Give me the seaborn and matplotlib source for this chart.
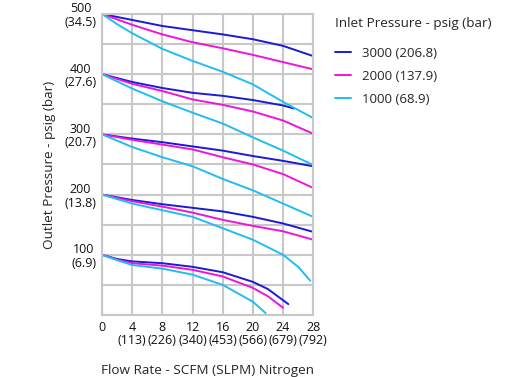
import pandas as pd
import matplotlib
import matplotlib.pyplot as plt
import seaborn as sns

# flow rate readings, SCFM
flow = [0, 4, 8, 12, 16, 20, 24, 28]

# outlet set at 500 psig
out500_3000 = [500, 490, 480, 473, 466, 458, 447, 430]
out500_2000 = [500, 482, 466, 453, 443, 432, 420, 408]
flow500_1000 = [0, 2, 4, 8, 12, 16, 20, 24, 28]
out500_1000 = [500, 483, 468, 442, 422, 404, 383, 354, 327]

# outlet set at 400 psig
flow400_3000 = [0, 4, 8, 12, 16, 20, 24, 25.4]
out400_3000 = [400, 387, 377, 369, 364, 357, 348, 343]
out400_2000 = [400, 384, 372, 358, 349, 338, 323, 301]
out400_1000 = [400, 376, 355, 336, 318, 295, 273, 249]

# outlet set at 300 psig
out300_3000 = [300, 293, 287, 280, 273, 264, 256, 247]
out300_2000 = [300, 291, 283, 275, 262, 250, 234, 211]
out300_1000 = [300, 279, 262, 247, 226, 207, 185, 163]

# outlet set at 200 psig
out200_3000 = [200, 191, 184, 178, 172, 163, 152, 138]
out200_2000 = [200, 189, 180, 170, 158, 148, 139, 125]
flow200_1000 = [0, 4, 8, 12, 16, 20, 24, 26, 27.6]
out200_1000 = [200, 185, 174, 163, 144, 125, 100, 80, 57]

# outlet set at 100 psig
flow100_3000 = [0, 2, 4, 8, 12, 16, 20, 22, 24.7]
out100_3000 = [100, 93, 89, 86, 80, 71, 55, 43, 18]
flow100_2000 = [0, 2, 4, 8, 12, 16, 20, 22, 24]
out100_2000 = [100, 92, 86, 82, 75, 64, 45, 31, 12]
flow100_1000 = [0, 2, 4, 8, 12, 16, 20, 21.7]
out100_1000 = [100, 91, 83, 77, 67, 50, 22, 3]

inlet_labels = ['3000 (206.8)', '2000 (137.9)', '1000 (68.9)']
colors = ['#1a1ad8', '#ee14dc', '#22bdee']

x_ticks = [0, 4, 8, 12, 16, 20, 24, 28]
x_labels = ['0', '4\n(113)', '8\n(226)', '12\n(340)', '16\n(453)',
            '20\n(566)', '24\n(679)', '28\n(792)']
y_ticks = [0, 50, 100, 150, 200, 250, 300, 350, 400, 450, 500]
y_labels = ['', '', '100\n(6.9)', '', '200\n(13.8)', '', '300\n(20.7)', '',
            '400\n(27.6)', '', '500\n(34.5)']


def build_frame():
  curves = [
    (flow, out500_3000, 0), (flow, out500_2000, 1), (flow500_1000, out500_1000, 2),
    (flow400_3000, out400_3000, 0), (flow, out400_2000, 1), (flow, out400_1000, 2),
    (flow, out300_3000, 0), (flow, out300_2000, 1), (flow, out300_1000, 2),
    (flow, out200_3000, 0), (flow, out200_2000, 1), (flow200_1000, out200_1000, 2),
    (flow100_3000, out100_3000, 0), (flow100_2000, out100_2000, 1),
    (flow100_1000, out100_1000, 2),
  ]
  rows = []
  for i, (xs, ys, k) in enumerate(curves):
    for x, y in zip(xs, ys):
      rows.append({'flow': x, 'outlet': y, 'inlet': inlet_labels[k], 'curve': i})
  return pd.DataFrame(rows)


def main():
  sns.set_style('white')
  matplotlib.rc('font', family=['Open Sans', 'DejaVu Sans'], size=9)

  df = build_frame()

  fig = plt.figure(figsize=(5.3, 3.77), dpi=100)
  ax = fig.add_axes([0.1925, 0.1645, 0.3985, 0.7985])

  sns.lineplot(data=df, x='flow', y='outlet', hue='inlet', units='curve',
               estimator=None, sort=False, hue_order=inlet_labels,
               palette=colors, linewidth=1.4, ax=ax)

  grid_color = '#c8c8c8'
  ax.set_xlim(0, 28)
  ax.set_ylim(0, 500)
  ax.set_xticks(x_ticks)
  ax.set_xticklabels(x_labels, linespacing=1.05)
  ax.set_yticks(y_ticks)
  ax.set_yticklabels(y_labels, multialignment='center', linespacing=1.05)
  ax.tick_params(length=0, pad=4, labelsize=9, colors='#111111')
  ax.grid(True, color=grid_color, linewidth=1.5)
  ax.set_axisbelow(True)
  for s in ax.spines.values():
    s.set_color(grid_color)
    s.set_linewidth(1.5)

  ax.set_xlabel('Flow Rate - SCFM (SLPM) Nitrogen', fontsize=9.7, labelpad=12)
  ax.set_ylabel('Outlet Pressure - psig (bar)', fontsize=9.7, labelpad=6)

  sns.move_legend(ax, 'upper left', bbox_to_anchor=(0.61, 0.986),
                  bbox_transform=fig.transFigure, frameon=False,
                  title='Inlet Pressure - psig (bar)', title_fontsize=9.7,
                  fontsize=9.5, handlelength=1.2, handletextpad=0.8,
                  labelspacing=0.75, alignment='left')
  leg = ax.get_legend()
  leg._legend_box.sep = 12

  fig.savefig('out.png', dpi=100)


if __name__ == '__main__':
  main()
